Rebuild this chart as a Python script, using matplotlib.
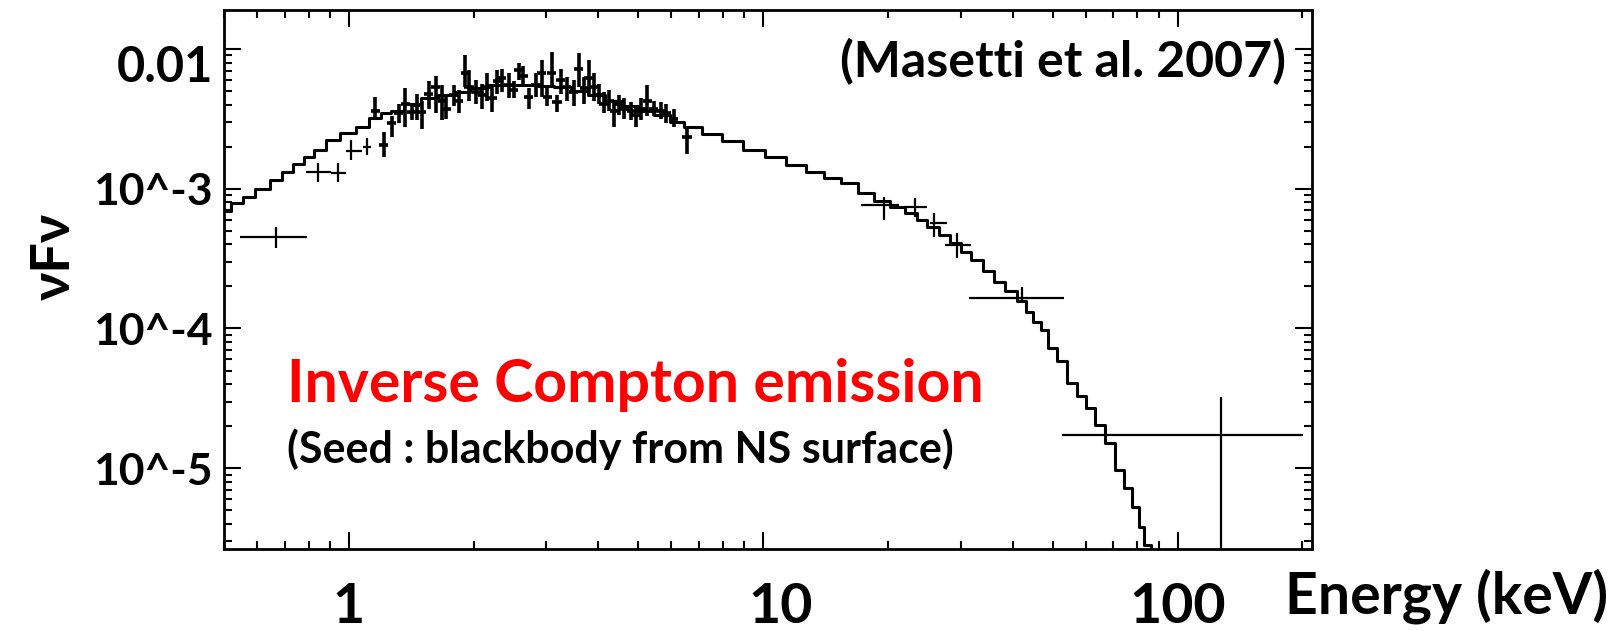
import numpy as np
import matplotlib
matplotlib.use('Agg')
import matplotlib.pyplot as plt
from matplotlib.ticker import NullFormatter
from matplotlib.transforms import ScaledTranslation

plt.rcParams['font.family'] = ['Lato', 'Open Sans', 'Noto Sans CJK JP', 'DejaVu Sans']
plt.rcParams['font.weight'] = 'bold'

# model spectrum (step histogram): energy [keV], log10(nuFnu)
model_E = [0.50, 0.54, 0.57, 0.62, 0.67, 0.71, 0.76, 0.80, 0.85, 0.91,
           1.00, 1.08, 1.16, 1.23, 1.30, 1.42, 1.56, 1.72, 1.88, 2.05,
           2.27, 2.50, 2.72, 3.00, 3.27, 3.60, 3.95, 4.35, 4.75, 5.20,
           5.70, 6.20, 6.70, 7.50, 8.40, 9.50, 10.75, 12.0, 13.4, 14.7,
           16.1, 17.7, 19.4, 21.1, 22.9, 24.2, 25.6, 27.4, 29.2, 30.9,
           32.7, 35.0, 37.2, 39.6, 42.2, 43.9, 45.8, 47.7, 49.9, 52.5,
           55.4, 59.0, 61.3, 64.8, 68.5, 72.4, 75.7, 79.6, 81.8, 84.2, 88.0]
model_logF = [-3.16, -3.10, -3.06, -3.00, -2.94, -2.88, -2.82, -2.77, -2.72, -2.65,
              -2.60, -2.56, -2.49, -2.46, -2.44, -2.39, -2.35, -2.33, -2.31, -2.28,
              -2.26, -2.255, -2.26, -2.265, -2.27, -2.30, -2.33, -2.37, -2.41, -2.44,
              -2.47, -2.52, -2.56, -2.61, -2.66, -2.72, -2.77, -2.83, -2.88, -2.92,
              -2.96, -3.03, -3.09, -3.13, -3.17, -3.22, -3.27, -3.33, -3.39, -3.45,
              -3.51, -3.59, -3.67, -3.73, -3.80, -3.88, -3.95, -4.01, -4.14, -4.23,
              -4.39, -4.48, -4.57, -4.69, -4.82, -5.01, -5.14, -5.28, -5.42, -5.55, -5.80]

# densely sampled data, 1-7 keV: centre, lower, upper (log10 nuFnu)
dense_E = [1.16, 1.215, 1.27, 1.32, 1.37, 1.42, 1.46, 1.50, 1.56, 1.62,
           1.68, 1.72, 1.79, 1.84, 1.91, 1.95, 2.03, 2.10, 2.15, 2.22,
           2.28, 2.34, 2.43, 2.50, 2.57, 2.64, 2.72, 2.83, 2.92, 3.01,
           3.09, 3.18, 3.25, 3.36, 3.49, 3.59, 3.70, 3.80, 3.91, 4.02,
           4.13, 4.25, 4.37, 4.49, 4.62, 4.80, 4.94, 5.08, 5.25, 5.45,
           5.66, 5.83, 6.09, 6.55]
dense_logF = [-2.44, -2.69, -2.53, -2.46, -2.39, -2.45, -2.40, -2.45, -2.32, -2.27,
              -2.37, -2.43, -2.33, -2.37, -2.17, -2.27, -2.31, -2.33, -2.27, -2.35,
              -2.23, -2.21, -2.26, -2.29, -2.15, -2.19, -2.34, -2.26, -2.17, -2.34,
              -2.17, -2.38, -2.22, -2.27, -2.31, -2.14, -2.28, -2.21, -2.27, -2.33,
              -2.39, -2.37, -2.44, -2.39, -2.43, -2.44, -2.47, -2.43, -2.37, -2.43,
              -2.44, -2.46, -2.50, -2.63]
dense_lo = [-2.51, -2.77, -2.63, -2.53, -2.56, -2.51, -2.51, -2.57, -2.43, -2.46,
            -2.51, -2.50, -2.41, -2.46, -2.27, -2.37, -2.39, -2.43, -2.37, -2.45,
            -2.32, -2.31, -2.35, -2.35, -2.22, -2.27, -2.43, -2.34, -2.34, -2.41,
            -2.27, -2.45, -2.32, -2.37, -2.41, -2.27, -2.39, -2.32, -2.37, -2.39,
            -2.46, -2.44, -2.56, -2.47, -2.50, -2.51, -2.56, -2.51, -2.48, -2.48,
            -2.50, -2.53, -2.56, -2.75]
dense_hi = [-2.34, -2.59, -2.48, -2.39, -2.28, -2.39, -2.32, -2.37, -2.23, -2.19,
            -2.26, -2.34, -2.26, -2.29, -2.04, -2.15, -2.22, -2.25, -2.17, -2.27,
            -2.15, -2.14, -2.17, -2.23, -2.10, -2.12, -2.28, -2.17, -2.08, -2.27,
            -2.02, -2.33, -2.14, -2.20, -2.22, -2.03, -2.20, -2.08, -2.17, -2.25,
            -2.31, -2.29, -2.37, -2.33, -2.35, -2.38, -2.40, -2.35, -2.26, -2.37,
            -2.38, -2.39, -2.43, -2.56]
dense_halfwidth = 0.011  # dex

# wide-bin points: centre, bin edges, log10 nuFnu with lower/upper
wide_E = [0.667, 0.841, 0.941, 1.011, 1.105, 19.6, 23.2, 25.9, 29.3, 42.2, 127.0]
wide_Elo = [0.545, 0.787, 0.905, 0.983, 1.08, 17.2, 21.9, 25.2, 27.4, 31.4, 52.5]
wide_Ehi = [0.792, 0.905, 0.983, 1.075, 1.13, 21.3, 24.8, 27.7, 31.8, 53.3, 201.0]
wide_logF = [-3.346, -2.880, -2.888, -2.730, -2.701, -3.117, -3.131, -3.246, -3.403, -3.782, -4.763]
wide_lo = [-3.425, -2.952, -2.952, -2.795, -2.759, -3.224, -3.203, -3.346, -3.496, -3.818, -9.0]
wide_hi = [-3.274, -2.816, -2.816, -2.651, -2.637, -3.060, -3.067, -3.174, -3.317, -3.704, -4.491]

xtick_vals = [1, 10, 100]
xtick_text = ['1', '10', '100']
ytick_vals = [1e-2, 1e-3, 1e-4, 1e-5]
ytick_text = ['0.01', '10^-3', '10^-4', '10^-5']

W, H = 1620, 631
fig = plt.figure(figsize=(W / 100, H / 100), dpi=100)
ax = fig.add_axes([224 / W, 1 - 549 / H, (1312 - 224) / W, (549 - 9.5) / H])

ax.plot(model_E, 10 ** np.array(model_logF), drawstyle='steps-mid', color='k', lw=2.2)

dE = np.array(dense_E)
dF = 10 ** np.array(dense_logF)
ax.errorbar(dE, dF,
            xerr=[dE - dE * 10 ** -dense_halfwidth, dE * 10 ** dense_halfwidth - dE],
            yerr=[dF - 10 ** np.array(dense_lo), 10 ** np.array(dense_hi) - dF],
            fmt='none', ecolor='k', elinewidth=2.6, capsize=0)

wE = np.array(wide_E)
wF = 10 ** np.array(wide_logF)
ax.errorbar(wE, wF,
            xerr=[wE - np.array(wide_Elo), np.array(wide_Ehi) - wE],
            yerr=[wF - 10 ** np.array(wide_lo), 10 ** np.array(wide_hi) - wF],
            fmt='none', ecolor='k', elinewidth=1.6, capsize=0)

ax.set_xscale('log')
ax.set_yscale('log')
ax.set_xlim(0.5, 211)
ax.set_ylim(2.64e-6, 0.0192)

ax.set_xticks(xtick_vals)
ax.set_xticklabels(xtick_text, fontsize=40, fontweight='bold')
ax.set_yticks(ytick_vals)
ax.set_yticklabels(ytick_text, fontsize=32, fontweight='bold')
ax.xaxis.set_minor_formatter(NullFormatter())
ax.yaxis.set_minor_formatter(NullFormatter())
ax.tick_params(which='both', direction='in', top=True, right=True, width=1.5, color='k')
ax.tick_params(which='major', length=12)
ax.tick_params(which='minor', length=6)
ax.tick_params(axis='x', pad=24)
ax.tick_params(axis='y', pad=8)
for s in ax.spines.values():
    s.set_linewidth(2)

# hand-placed labels in the original are a bit off their ticks
lbl = ax.get_yticklabels()[0]
lbl.set_fontsize(35)
lbl.set_transform(lbl.get_transform() + ScaledTranslation(0, -14 / 100, fig.dpi_scale_trans))
lbl = ax.get_xticklabels()[1]
lbl.set_transform(lbl.get_transform() + ScaledTranslation(17 / 100, 0, fig.dpi_scale_trans))

fig.text(1286 / W, 1 - 62 / H, '(Masetti et al. 2007)', fontsize=36, fontweight='bold',
         ha='right', va='center')
fig.text(287 / W, 1 - 402 / H, 'Inverse Compton emission', fontsize=42.5, fontweight='bold',
         color='#ff0000', ha='left', va='baseline')
fig.text(287 / W, 1 - 463 / H, '(Seed : blackbody from NS surface)', fontsize=31,
         fontweight='bold', ha='left', va='baseline')
fig.text(1285 / W, 1 - 613 / H, 'Energy (keV)', fontsize=41, fontweight='bold',
         ha='left', va='baseline')
fig.text(54 / W, 1 - 256 / H, '\u03bdF\u03bd', fontsize=39, fontweight='bold',
         rotation=90, ha='center', va='center')

fig.savefig('out.png', dpi=100)
